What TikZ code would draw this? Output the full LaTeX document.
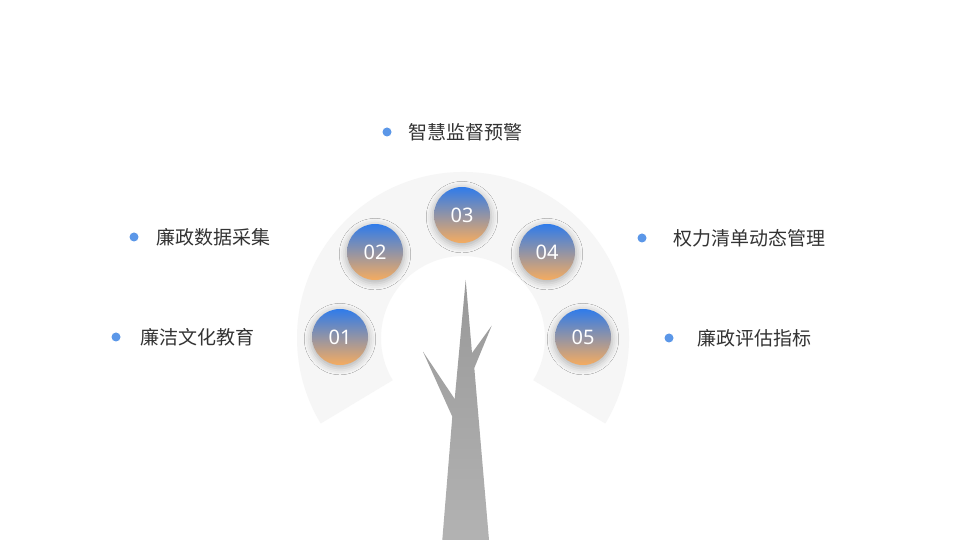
\documentclass[tikz,border=0pt]{standalone}
\usepackage{fontspec}
\setmainfont{Noto Sans}
\newfontfamily\cjk{Noto Sans CJK SC}
\usetikzlibrary{shadows.blur}
\definecolor{ringc}{HTML}{F6F6F6}
\definecolor{blu}{HTML}{2F7BEA}
\definecolor{org}{HTML}{F5AC60}
\definecolor{dotc}{HTML}{5B97E8}
\definecolor{txt}{HTML}{333333}
\begin{document}
\begin{tikzpicture}[x=1pt,y=1pt,
  num/.style={circle,minimum size=56pt,inner sep=0pt,top color=blu,bottom color=org,text=white,font=\fontsize{20}{20}\selectfont,
    blur shadow={shadow xshift=0pt,shadow yshift=-2pt,shadow blur radius=6pt,shadow opacity=25,shadow scale=1.05}},
  lbl/.style={anchor=west,text=txt,font=\cjk\fontsize{19}{19}\selectfont,inner sep=0pt},
  dot/.style={circle,fill=dotc,minimum size=9pt,inner sep=0pt}]
\useasboundingbox (0,0) rectangle (960,540);
\fill[white] (0,0) rectangle (960,540);
% ring
\fill[ringc] (463,202) ++(-31:166) arc[start angle=-31,end angle=211,radius=166]
  -- ++(31:84) arc[start angle=211,end angle=-31,radius=82] -- cycle;
% tree
\shade[top color=gray!80,bottom color=gray!60] (465.7,260) -- (472,187) -- (491.7,214.3) -- (474.3,172) -- (489,0) -- (442.3,0) -- (452.3,123.3) -- (423,188.3) -- (454.7,141) -- cycle;
% circles
\node[num] (n1) at (340,203) {01};
\node[num] (n2) at (375,288) {02};
\node[num] (n3) at (462,325) {03};
\node[num] (n4) at (547,288) {04};
\node[num] (n5) at (583,203) {05};
% labels
\node[dot] (d3) at (387,408) {}; \node[lbl] (l3) at (408,408) {智慧监督预警};
\node[dot] (d2) at (134,303) {}; \node[lbl] (l2) at (156,303) {廉政数据采集};
\node[dot] (d4) at (642,302) {}; \node[lbl] (l4) at (673,302) {权力清单动态管理};
\node[dot] (d1) at (116,203) {}; \node[lbl] (l1) at (140,203) {廉洁文化教育};
\node[dot] (d5) at (669,202) {}; \node[lbl] (l5) at (697,202) {廉政评估指标};
\end{tikzpicture}
\end{document}
